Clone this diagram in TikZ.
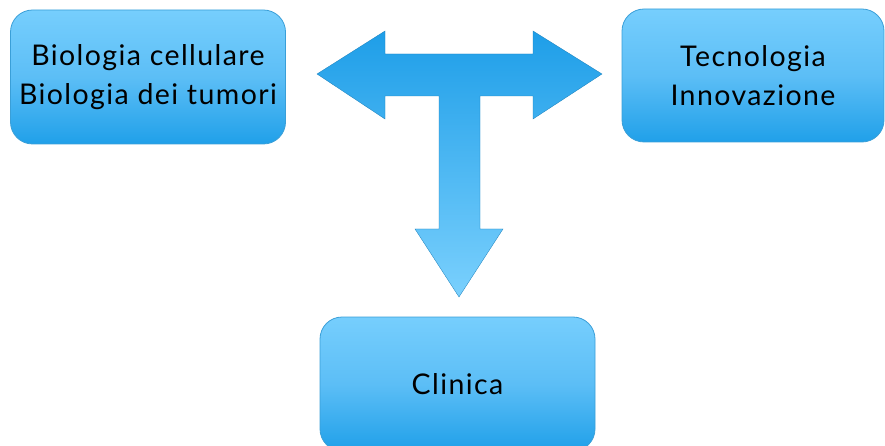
\documentclass[tikz,border=0pt]{standalone}
\usepackage{fontspec}
\setmainfont{Lato}[LetterSpace=5]
\begin{document}
\begin{tikzpicture}[x=1pt,y=-1pt,
  box/.style={draw=boxedge, line width=0.8pt, rounded corners=22pt,
    top color=boxtop, bottom color=boxbot, middle color=boxmid,
    align=center, font=\fontsize{28.5}{39}\selectfont, text=black,
    inner sep=0pt}]
\definecolor{boxtop}{HTML}{76CEFD}
\definecolor{boxmid}{HTML}{5CBEF6}
\definecolor{boxbot}{HTML}{20A0E9}
\definecolor{boxedge}{HTML}{3A9FD8}
\definecolor{arrtop}{HTML}{1E9EE8}
\definecolor{arrbot}{HTML}{7AD0FD}
\useasboundingbox (0,0) rectangle (885,446);
\clip (0,0) rectangle (885,446);
\node[box, minimum width=275pt, minimum height=134pt] (bio) at (148,77)
  {Biologia cellulare\\Biologia dei tumori};
\node[box, minimum width=262pt, minimum height=133pt] (tec) at (753,75.5)
  {Tecnologia\\Innovazione};
\node[box, minimum width=275pt, minimum height=134pt, text depth=0pt] (cli) at (457.5,384)
  {Clinica};
\path[top color=arrtop, bottom color=arrbot, draw=arrtop!80!black, line width=0.3pt]
  (317,74) -- (385,31) -- (385,54) -- (533,54) -- (533,31) -- (602,74)
  -- (533,119) -- (533,96) -- (480,96) -- (480,229) -- (503,229)
  -- (459,297) -- (415,229) -- (439,229) -- (439,96) -- (385,96)
  -- (385,119) -- cycle;
\end{tikzpicture}
\end{document}
